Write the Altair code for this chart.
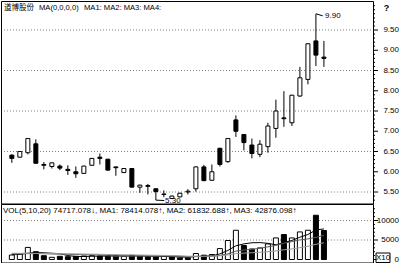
import altair as alt
import pandas as pd

# ---------------- data ----------------
TITLE_NAME = "道博股份"
TITLE_MA = "MA(0,0,0,0)"
TITLE_MAS = "MA1: MA2: MA3: MA4:"
VOL_TITLE = "VOL(5,10,20) 74717.078\u2193, MA1: 78414.078\u2191, MA2: 61832.688\u2191, MA3: 42876.098\u2191"

opens = [6.41, 6.36, 6.47, 6.69, 6.18, 6.13, 6.14, 6.06, 6.00, 5.96,
         6.16, 6.36, 6.31, 6.12, 5.98, 6.08, 5.62, 5.66, 5.58, 5.45,
         5.34, 5.38, 5.50, 5.58, 6.12, 5.79, 6.58, 6.25, 7.28, 6.92,
         6.66, 6.43, 6.62, 7.07, 7.33, 7.21, 7.87, 8.28, 9.23, 8.83]
highs = [6.43, 6.51, 6.83, 6.80, 6.24, 6.23, 6.18, 6.16, 6.13, 6.15,
         6.34, 6.45, 6.32, 6.12, 6.08, 6.09, 5.68, 5.70, 5.59, 5.54,
         5.41, 5.48, 5.57, 6.13, 6.17, 6.18, 6.59, 6.83, 7.39, 6.93,
         6.82, 6.78, 7.21, 7.78, 7.99, 7.90, 8.59, 9.17, 9.90, 9.23]
lows = [6.22, 6.35, 6.43, 6.20, 6.06, 6.08, 6.04, 5.92, 5.85, 5.95,
        6.15, 6.18, 6.03, 5.90, 5.97, 5.61, 5.48, 5.44, 5.30, 5.37,
        5.33, 5.37, 5.44, 5.51, 5.77, 5.78, 6.13, 6.22, 6.86, 6.53,
        6.33, 6.36, 6.47, 6.84, 7.11, 7.13, 7.85, 8.16, 8.61, 8.59]
closes = [6.33, 6.50, 6.82, 6.21, 6.16, 6.22, 6.09, 6.03, 5.95, 6.14,
          6.33, 6.33, 6.04, 6.10, 6.08, 5.62, 5.67, 5.64, 5.51, 5.44,
          5.40, 5.47, 5.52, 6.12, 5.78, 6.00, 6.18, 6.82, 7.00, 6.72,
          6.45, 6.68, 7.13, 7.50, 7.31, 7.89, 8.32, 9.16, 8.88, 8.80]

volumes = [1150, 1400, 3100, 2000, 970, 560, 820, 720, 820, 900,
           970, 900, 970, 900, 820, 1070, 820, 720, 640, 770,
           670, 410, 410, 1540, 1100, 1280, 2800, 4870, 7500, 3600,
           2700, 2970, 4000, 5530, 6400, 5530, 7070, 7500, 11350, 7430]
vol_up = [1, 1, 1, 0, 0, 1, 0, 0, 0, 1,
          1, 0, 0, 0, 1, 0, 0, 0, 0, 1,
          0, 0, 0, 1, 0, 1, 1, 1, 1, 0,
          0, 1, 1, 1, 0, 1, 1, 1, 0, 0]
ma1 = [1300, 1350, 1600, 1800, 1720, 1610, 1490, 1010, 780, 760,
       850, 860, 910, 930, 910, 930, 920, 870, 810, 800,
       720, 640, 580, 760, 830, 950, 1430, 2320, 3510, 4010,
       4290, 4330, 4150, 3760, 4320, 4890, 5710, 6410, 7570, 7840]
ma2 = [1500, 1480, 1500, 1520, 1480, 1420, 1380, 1320, 1280, 1240,
       1230, 1180, 960, 850, 840, 890, 890, 890, 870, 860,
       830, 780, 720, 790, 820, 840, 1030, 1450, 2140, 2420,
       2620, 2880, 3240, 3640, 4170, 4590, 5020, 5280, 5670, 6180]
ma3 = [1600, 1580, 1580, 1570, 1550, 1520, 1500, 1470, 1440, 1400,
       1370, 1330, 1290, 1250, 1210, 1180, 1140, 1110, 1080, 1050,
       1030, 980, 840, 820, 830, 860, 960, 1170, 1500, 1640,
       1730, 1830, 1980, 2210, 2490, 2710, 3030, 3370, 3900, 4290]

PRICE_LABELS = [5.5, 6.0, 6.5, 7.0, 7.5, 8.0, 8.5, 9.0, 9.5]
PRICE_MINOR = [5.3, 5.4, 5.6, 5.7, 5.8, 5.9, 6.1, 6.2, 6.3, 6.4, 6.6, 6.7,
               6.8, 6.9, 7.1, 7.2, 7.3, 7.4, 7.6, 7.7, 7.8, 7.9, 8.1, 8.2,
               8.3, 8.4, 8.6, 8.7, 8.8, 8.9, 9.1, 9.2, 9.3, 9.4, 9.6, 9.7,
               9.8, 9.9, 10.0, 10.1]
PRICE_GRID = [5.5, 6.5, 7.5, 8.5, 9.5]
VOL_LABELS = [0, 5000, 10000]
VOL_MINOR = [1000, 2000, 3000, 4000, 6000, 7000, 8000, 9000, 11000, 12000, 13000]
VOL_GRID = [5000, 10000]

ANN_X = [38, 18]
ANN_Y = [9.90, 5.30]
ANN_X2 = [38.85, 19.05]
ANN_Y2 = [9.85, 5.29]
ANN_TX = [39.15, 19.15]
ANN_TY = [9.85, 5.29]
ANN_LABEL = ["9.90", "5.30"]

# ---------------- layout ----------------
FONT = "Liberation Sans"
W = 372
H_MAIN = 203
H_VOL = 59
X_DOMAIN = [-0.73, 44.51]
P_DOMAIN = [5.204, 10.216]
V_DOMAIN = [-897, 14231]

idx = list(range(len(opens)))
df = pd.DataFrame({"i": idx, "o": opens, "h": highs, "l": lows, "c": closes})
vdf = pd.DataFrame({"i": idx, "v": volumes, "up": vol_up})
mdf = pd.concat([
    pd.DataFrame({"i": idx, "s": name, "m": arr})
    for name, arr in [("MA1", ma1), ("MA2", ma2), ("MA3", ma3)]
])
adf = pd.DataFrame({"x": ANN_X, "y": ANN_Y, "x2": ANN_X2, "y2": ANN_Y2,
                    "tx": ANN_TX, "ty": ANN_TY, "label": ANN_LABEL})

xscale = alt.Scale(domain=X_DOMAIN, nice=False, zero=False)
pscale = alt.Scale(domain=P_DOMAIN, nice=False, zero=False)
vscale = alt.Scale(domain=V_DOMAIN, nice=False, zero=False)


def label(text, x, y, size=8, weight="normal", align="left", font=FONT):
    return alt.Chart(pd.DataFrame({"t": [text]})).mark_text(
        align=align, baseline="middle", font=font, fontSize=size,
        fontWeight=weight, color="black"
    ).encode(x=alt.value(x), y=alt.value(y), text="t:N")


def grid(values, scale):
    return alt.Chart(pd.DataFrame({"g": values})).mark_rule(
        color="#808080", strokeWidth=1, strokeDash=[1, 2]
    ).encode(y=alt.Y("g:Q", scale=scale, axis=None),
             x=alt.value(0), x2=alt.value(W))


def ticks(values, scale, length):
    return alt.Chart(pd.DataFrame({"g": values})).mark_rule(
        color="black", strokeWidth=1
    ).encode(y=alt.Y("g:Q", scale=scale, axis=None),
             x=alt.value(W), x2=alt.value(W + length))


def tick_labels(values, scale, fmt):
    return alt.Chart(pd.DataFrame({"g": values})).mark_text(
        align="right", baseline="middle", font=FONT, fontSize=8, color="black"
    ).encode(y=alt.Y("g:Q", scale=scale, axis=None),
             x=alt.value(W + 26),
             text=alt.Text("g:Q", format=fmt))


def border(h):
    return alt.Chart(pd.DataFrame({"k": [0]})).mark_rect(
        fill=None, stroke="black", strokeWidth=1
    ).encode(x=alt.value(0.5), x2=alt.value(W + 0.5), y=alt.value(0.5), y2=alt.value(h))


# ---------------- price panel ----------------
wicks = alt.Chart(df).mark_rule(color="black", strokeWidth=1).encode(
    x=alt.X("i:Q", scale=xscale, axis=None),
    y=alt.Y("l:Q", scale=pscale, axis=None),
    y2="h:Q",
)
bodies = alt.Chart(df).mark_bar(size=4, stroke="black", strokeWidth=1).encode(
    x=alt.X("i:Q", scale=xscale, axis=None),
    y=alt.Y("o:Q", scale=pscale, axis=None),
    y2="c:Q",
    fill=alt.condition("datum.c > datum.o", alt.value("white"), alt.value("black")),
)
ann_rules = alt.Chart(adf).mark_rule(color="black", strokeWidth=1).encode(
    x=alt.X("x:Q", scale=xscale, axis=None),
    y=alt.Y("y:Q", scale=pscale, axis=None),
    x2="x2:Q", y2="y2:Q",
)
ann_text = alt.Chart(adf).mark_text(
    align="left", baseline="middle", font=FONT, fontSize=8, color="black"
).encode(
    x=alt.X("tx:Q", scale=xscale, axis=None),
    y=alt.Y("ty:Q", scale=pscale, axis=None),
    text="label:N",
)

main = alt.layer(
    grid(PRICE_GRID, pscale),
    ticks(PRICE_MINOR, pscale, 2),
    ticks(PRICE_LABELS, pscale, 5),
    tick_labels(PRICE_LABELS, pscale, ".2f"),
    wicks, bodies, ann_rules, ann_text,
    border(H_MAIN),
    label(TITLE_NAME, 3, 7, size=7.5, font="Noto Sans CJK SC"),
    label(TITLE_MA, 38, 7, size=7.6),
    label(TITLE_MAS, 83, 7, size=7.6),
    label("?", 385.5, 7, size=9, weight="bold", align="center"),
).properties(width=W, height=H_MAIN)

# ---------------- volume panel ----------------
vbars = alt.Chart(vdf).mark_bar(size=5, stroke="black", strokeWidth=1).encode(
    x=alt.X("i:Q", scale=xscale, axis=None),
    y=alt.Y("v:Q", scale=vscale, axis=None),
    fill=alt.condition("datum.up == 1", alt.value("white"), alt.value("black")),
)
vlines = alt.Chart(mdf).mark_line(strokeWidth=1).encode(
    x=alt.X("i:Q", scale=xscale, axis=None),
    y=alt.Y("m:Q", scale=vscale, axis=None),
    color=alt.Color("s:N", scale=alt.Scale(domain=["MA1", "MA2", "MA3"],
                                           range=["#000000", "#5a5a5a", "#9a9a9a"]),
                    legend=None),
)
xbox = alt.Chart(pd.DataFrame({"t": ["X10"]})).mark_rect(
    fill="white", stroke="black", strokeWidth=1
).encode(x=alt.value(375), x2=alt.value(389), y=alt.value(49), y2=alt.value(58.5))

vol = alt.layer(
    grid(VOL_GRID, vscale),
    ticks(VOL_MINOR, vscale, 2),
    ticks(VOL_LABELS, vscale, 5),
    tick_labels(VOL_LABELS, vscale, "d"),
    vbars, vlines,
    border(H_VOL),
    label(VOL_TITLE, 2, 7, size=8),
    xbox,
    label("X10", 382, 54, size=8, align="center"),
).properties(width=W, height=H_VOL)

chart = alt.vconcat(main, vol, spacing=0).properties(
    padding=0, bounds="flush"
).configure_view(stroke=None).configure(font=FONT)

chart.save("out.html", embed_options={"renderer": "svg", "actions": False})
